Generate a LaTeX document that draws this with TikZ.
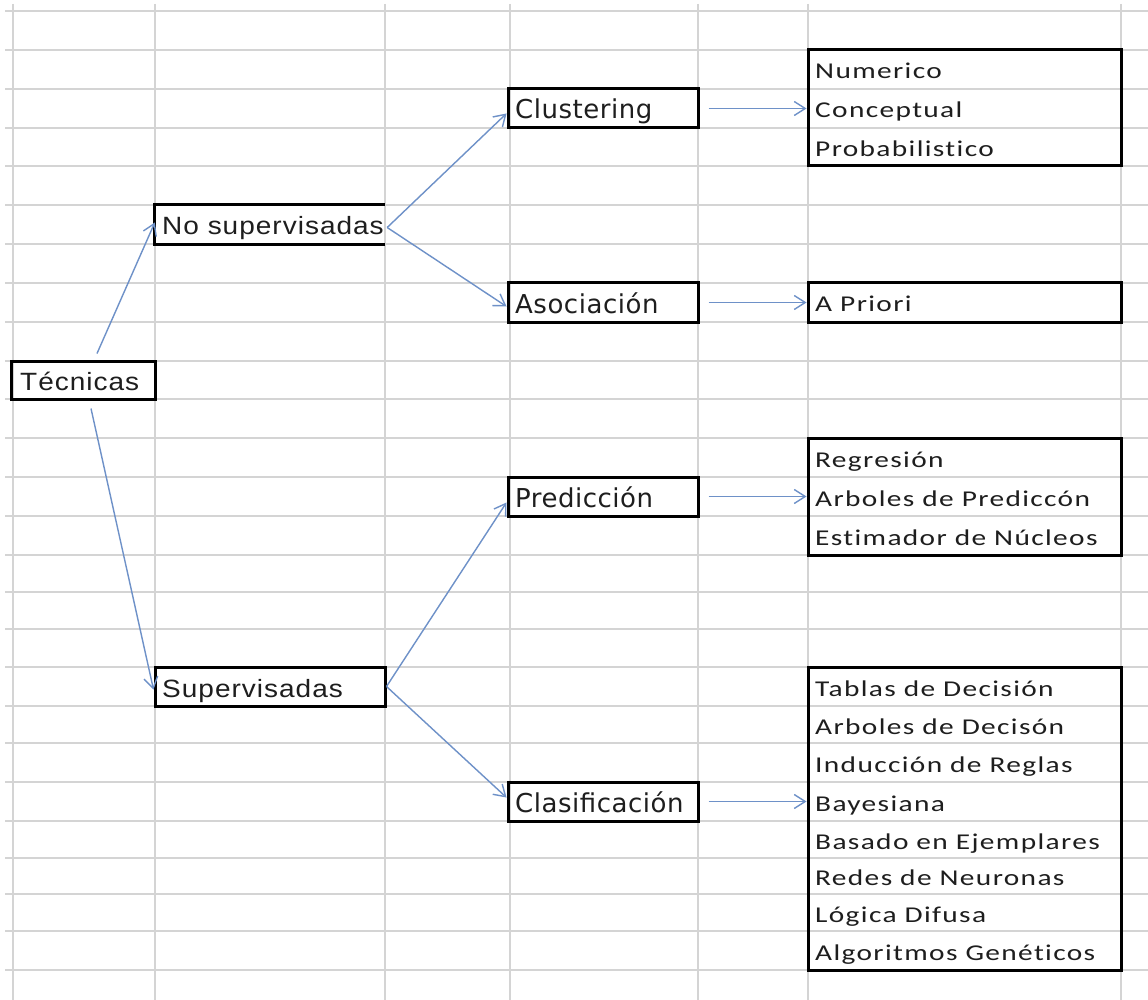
\documentclass[tikz,border=0pt]{standalone}
\usepackage{fontspec}
\usetikzlibrary{arrows.meta,calc}
\newfontfamily\lfont[FakeStretch=1.12,LetterSpace=4]{Liberation Sans}
\newfontfamily\mfont[LetterSpace=2]{DejaVu Sans}
\newfontfamily\rfont[FakeStretch=1.3,LetterSpace=6,Ligatures={NoCommon,NoRare}]{Carlito}
\definecolor{gridc}{RGB}{212,212,212}
\definecolor{arrc}{RGB}{110,145,200}
\definecolor{txt}{RGB}{30,30,30}
\begin{document}
\begin{tikzpicture}[x=1pt,y=-1pt,
  gridline/.style={gridc,line width=1.4pt},
  cellbox/.style={draw=black,line width=3pt,inner sep=0pt,rectangle},
  openbox/.style={inner sep=0pt,rectangle},
  ltext/.style={anchor=base west,inner sep=0pt,text=txt,font=\lfont\fontsize{25}{30}\selectfont},
  mtext/.style={anchor=base west,inner sep=0pt,text=txt,font=\mfont\fontsize{26}{30}\selectfont},
  rtext/.style={anchor=base west,inner sep=0pt,text=txt,font=\rfont\fontsize{22.6}{27}\selectfont},
  conn/.style={arrc,line width=1.4pt,-{Straight Barb[length=11pt,width=14pt]}}]
\useasboundingbox[fill=white] (0,0) rectangle (1148,1000);
% spreadsheet grid
\foreach \yy in {11,50,89,128,166,205,244,283,322,361,399,438,477,516,555,592,629,667,706,743,782,821,858,894,931,970}
  \draw[gridline] (5,\yy) -- (1148,\yy);
\foreach \xx in {13,155,385,510,698,808,1121}
  \draw[gridline] (\xx,4) -- (\xx,1000);
% boxes
\node[cellbox,minimum width=144pt,minimum height=38pt] (tec) at (83,380) {};
\node[openbox,minimum width=230pt,minimum height=39pt] (nos) at (270,224.5) {};
\draw[black,line width=3pt] (nos.north east) -- (nos.north west) -- (nos.south west) -- (nos.south east);
\node[cellbox,minimum width=230pt,minimum height=39pt] (sup) at (270,686.5) {};
\node[cellbox,minimum width=190pt,minimum height=39pt] (clu) at (603,108.5) {};
\node[cellbox,minimum width=190pt,minimum height=39pt] (aso) at (603,302.5) {};
\node[cellbox,minimum width=190pt,minimum height=39pt] (pre) at (603,496.5) {};
\node[cellbox,minimum width=190pt,minimum height=39pt] (cla) at (603,801.5) {};
\node[cellbox,minimum width=313pt,minimum height=116pt] (b1) at (964.5,108) {};
\node[cellbox,minimum width=313pt,minimum height=39pt] (b2) at (964.5,302.5) {};
\node[cellbox,minimum width=313pt,minimum height=117pt] (b3) at (964.5,496.5) {};
\node[cellbox,minimum width=313pt,minimum height=303pt] (b4) at (964.5,818.5) {};
% texts
\node[ltext] (ttec) at (20,390) {Técnicas};
\node[ltext] (tnos) at (162,235) {No supervisadas};
\node[ltext] (tsup) at (162,697) {Supervisadas};
\node[mtext] (tclu) at (515,119) {Clustering};
\node[mtext] (taso) at (515,313) {Asociación};
\node[mtext] (tpre) at (515,507) {Predicción};
\node[mtext] (tcla) at (515,812) {Clasificación};
\node[rtext] (r11) at (815,79) {Numerico};
\node[rtext] (r12) at (815,118) {Conceptual};
\node[rtext] (r13) at (815,156.5) {Probabilistico};
\node[rtext] (r21) at (815,312) {A Priori};
\node[rtext] (r31) at (815,467) {Regresión};
\node[rtext] (r32) at (815,506) {Arboles de Prediccón};
\node[rtext] (r33) at (815,545) {Estimador de Núcleos};
\node[rtext] (r41) at (815,696) {Tablas de Decisión};
\node[rtext] (r42) at (815,734) {Arboles de Decisón};
\node[rtext] (r43) at (815,772) {Inducción de Reglas};
\node[rtext] (r44) at (815,811) {Bayesiana};
\node[rtext] (r45) at (815,849) {Basado en Ejemplares};
\node[rtext] (r46) at (815,885.5) {Redes de Neuronas};
\node[rtext] (r47) at (815,922) {Lógica Difusa};
\node[rtext] (r48) at (815,960) {Algoritmos Genéticos};
% connectors
\draw[conn] ($(tec.north)+(14,-6)$) -- ($(nos.west)+(0,-2)$);
\draw[conn] ($(tec.south)+(8,8)$) -- ($(sup.west)+(0,3)$);
\draw[conn] ($(nos.east)+(2,3)$) -- ($(clu.west)+(0,5)$);
\draw[conn] ($(nos.east)+(2,3)$) -- ($(aso.west)+(0,4)$);
\draw[conn] (sup.east) -- ($(pre.west)+(0,6)$);
\draw[conn] (sup.east) -- ($(cla.west)+(0,-4)$);
\draw[conn] ($(clu.east)+(9,0)$) -- (clu.east -| b1.west);
\draw[conn] ($(aso.east)+(9,0)$) -- (aso.east -| b2.west);
\draw[conn] ($(pre.east)+(9,0)$) -- (pre.east -| b3.west);
\draw[conn] ($(cla.east)+(9,0)$) -- (cla.east -| b4.west);
\end{tikzpicture}
\end{document}
